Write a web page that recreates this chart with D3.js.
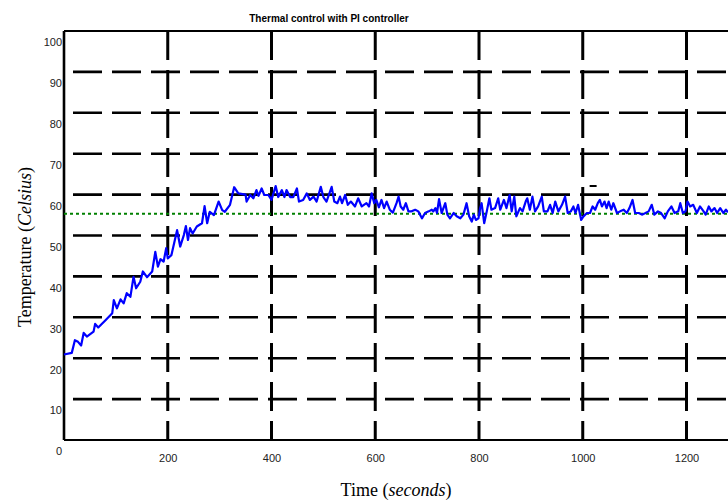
<!DOCTYPE html>
<html>
<head>
<meta charset="utf-8">
<script src="https://d3js.org/d3.v7.min.js"></script>
<style>
  body { margin: 0; background: #fff; }
  svg { display: block; }
</style>
</head>
<body>
<script>
// Chart data
var timeValues = [0, 15, 21, 27, 33, 38, 44, 57, 60, 66, 80, 93, 96, 102, 109, 115, 121, 128, 134, 139,
  147, 152, 160, 170, 176, 181, 186, 192, 197, 200, 207, 218, 224, 231, 235, 239, 243, 248, 256, 266,
  271, 276, 281, 289, 298, 305, 310, 320, 328, 336, 350, 352, 359, 365, 371, 375, 381, 386, 394, 400,
  408, 413, 420, 425, 429, 436, 442, 449, 453, 461, 468, 474, 481, 487, 495, 500, 506, 516, 521, 527,
  532, 536, 542, 547, 553, 561, 567, 574, 583, 588, 593, 598, 602, 607, 612, 617, 622, 628, 634, 641,
  645, 649, 654, 659, 664, 670, 677, 683, 690, 696, 703, 709, 712, 716, 719, 723, 728, 735, 739, 744,
  751, 757, 764, 770, 776, 781, 786, 790, 794, 799, 802, 805, 810, 815, 820, 824, 831, 837, 841, 848,
  853, 859, 863, 868, 872, 879, 884, 890, 893, 898, 903, 908, 914, 921, 925, 932, 937, 942, 947, 953,
  960, 966, 971, 977, 982, 986, 991, 997, 1001, 1008, 1014, 1019, 1024, 1029, 1033, 1037, 1042, 1046, 1050, 1055,
  1059, 1066, 1072, 1079, 1085, 1090, 1096, 1101, 1108, 1114, 1121, 1127, 1133, 1138, 1145, 1151, 1158, 1164, 1171, 1177,
  1184, 1188, 1193, 1198, 1202, 1207, 1213, 1220, 1226, 1233, 1237, 1243, 1248, 1254, 1259, 1265, 1271, 1276, 1280];

var temperatureValues = [20.9, 21.3, 24.4, 24.0, 23.1, 26.2, 25.3, 26.5, 28.4, 27.5, 29.3, 31.0, 34.2, 32.2, 34.4, 33.4, 35.9, 35.0, 39.9, 37.1,
  38.7, 41.2, 39.8, 41.2, 46.0, 42.4, 44.2, 43.6, 46.9, 44.4, 45.2, 51.3, 47.3, 50.1, 52.3, 48.9, 51.8, 50.5, 52.2, 53.0,
  57.2, 53.0, 55.8, 55.0, 58.3, 56.2, 55.8, 57.5, 61.8, 60.3, 60.0, 58.3, 59.9, 59.1, 61.1, 59.7, 61.5, 59.9, 59.9, 58.7,
  62.1, 59.4, 61.1, 59.4, 61.1, 59.4, 59.4, 61.5, 58.3, 58.7, 60.3, 58.7, 59.5, 58.3, 61.9, 59.4, 58.3, 61.9, 58.3, 57.9,
  59.5, 57.9, 59.9, 57.5, 58.3, 57.1, 59.1, 57.1, 57.9, 57.1, 60.3, 57.9, 58.7, 56.9, 58.7, 56.7, 58.3, 56.3, 55.6, 57.9,
  59.5, 57.1, 56.3, 57.9, 55.9, 55.9, 56.3, 55.9, 54.2, 55.5, 55.9, 56.3, 55.9, 56.7, 55.5, 58.9, 55.5, 57.9, 55.1, 54.2,
  55.5, 54.7, 54.2, 55.1, 57.9, 54.7, 53.4, 55.1, 53.8, 54.2, 56.6, 57.9, 53.0, 55.9, 59.1, 56.3, 56.7, 59.1, 56.3, 58.7,
  56.7, 59.9, 55.9, 59.5, 54.7, 56.7, 55.9, 58.3, 59.1, 56.3, 59.5, 55.9, 57.1, 59.5, 55.9, 55.9, 57.5, 55.5, 58.3, 55.9,
  57.5, 59.5, 55.5, 55.9, 57.1, 55.5, 57.5, 53.8, 54.6, 55.5, 55.5, 57.1, 56.3, 57.9, 58.7, 57.1, 58.3, 56.7, 58.3, 56.3,
  57.9, 55.5, 55.9, 56.3, 55.5, 56.7, 58.7, 55.5, 55.5, 55.1, 55.5, 55.9, 57.5, 55.1, 55.9, 55.5, 54.2, 55.9, 57.1, 55.5,
  55.9, 57.9, 55.5, 55.9, 58.3, 57.1, 57.5, 55.5, 57.1, 55.9, 55.1, 57.1, 55.9, 56.7, 55.5, 56.7, 55.5, 56.3, 55.7];

var setpoint = 55.3;
var xTicks = [200, 400, 600, 800, 1000, 1200];
var yTicks = [0, 10, 20, 30, 40, 50, 60, 70, 80, 90, 100];
var strayMark = [1020, 62.1];

var titleText = "Thermal control with PI controller";

// Define SVG area dimensions
var svgWidth = 728;
var svgHeight = 502;

var chartMargin = { top: 31, right: 0, bottom: 62, left: 64 };
var chartWidth = svgWidth - chartMargin.left - chartMargin.right;
var chartHeight = svgHeight - chartMargin.top - chartMargin.bottom;

var svg = d3.select("body")
  .append("svg")
  .attr("width", svgWidth)
  .attr("height", svgHeight);

var chartGroup = svg.append("g")
  .attr("transform", `translate(${chartMargin.left}, ${chartMargin.top})`);

// Scales
var xScale = d3.scaleLinear().domain([0, 1280]).range([0, chartWidth]);
var yScale = d3.scaleLinear().domain([0, 100]).range([chartHeight, 0]);

// Dashed grid lines
chartGroup.selectAll(".hgrid")
  .data(yTicks.filter(d => d > 0 && d < 100))
  .enter()
  .append("line")
  .attr("class", "hgrid")
  .attr("x1", 0)
  .attr("x2", chartWidth)
  .attr("y1", d => yScale(d))
  .attr("y2", d => yScale(d))
  .attr("stroke", "#000")
  .attr("stroke-width", 2.6)
  .attr("stroke-dasharray", "29,10")
  .attr("stroke-dashoffset", -9);

chartGroup.selectAll(".vgrid")
  .data(xTicks)
  .enter()
  .append("line")
  .attr("class", "vgrid")
  .attr("x1", d => xScale(d))
  .attr("x2", d => xScale(d))
  .attr("y1", 0)
  .attr("y2", chartHeight)
  .attr("stroke", "#000")
  .attr("stroke-width", 3)
  .attr("stroke-dasharray", "29,10");

// Axes
var bottomAxis = d3.axisBottom(xScale).tickValues(xTicks).tickFormat(d3.format("d")).tickSize(0).tickPadding(14);
var leftAxis = d3.axisLeft(yScale).tickValues(yTicks).tickFormat(d3.format("d")).tickSize(0).tickPadding(2);

var xAxisG = chartGroup.append("g")
  .attr("transform", `translate(0, ${chartHeight})`)
  .call(bottomAxis);

var yAxisG = chartGroup.append("g")
  .call(leftAxis);

[xAxisG, yAxisG].forEach(function(g) {
  g.select(".domain").remove();
  g.selectAll("text")
    .attr("font-family", "Liberation Sans, Arial, sans-serif")
    .attr("font-size", 11)
    .attr("fill", "#222");
});
yAxisG.selectAll("text").attr("dy", "1.35em");

// Frame lines
chartGroup.append("line")
  .attr("x1", 0).attr("x2", chartWidth)
  .attr("y1", 0).attr("y2", 0)
  .attr("stroke", "#000").attr("stroke-width", 2);
chartGroup.append("line")
  .attr("x1", 0).attr("x2", chartWidth)
  .attr("y1", chartHeight).attr("y2", chartHeight)
  .attr("stroke", "#000").attr("stroke-width", 2.2);
chartGroup.append("line")
  .attr("x1", 0).attr("x2", 0)
  .attr("y1", 0).attr("y2", chartHeight)
  .attr("stroke", "#000").attr("stroke-width", 2.6);

// Setpoint line
chartGroup.append("line")
  .attr("x1", 0).attr("x2", chartWidth)
  .attr("y1", yScale(setpoint)).attr("y2", yScale(setpoint))
  .attr("stroke", "#008000")
  .attr("stroke-width", 2)
  .attr("stroke-dasharray", "3,3");

// Temperature trace
var tempData = timeValues.map((t, i) => ({ t: t, v: temperatureValues[i] }));

var line = d3.line()
  .x(d => xScale(d.t))
  .y(d => yScale(d.v));

chartGroup.append("path")
  .datum(tempData)
  .attr("d", line)
  .attr("fill", "none")
  .attr("stroke", "#0000ff")
  .attr("stroke-width", 2.2)
  .attr("stroke-linejoin", "round");

// little stray mark
chartGroup.append("line")
  .attr("x1", xScale(strayMark[0]) - 3.5)
  .attr("x2", xScale(strayMark[0]) + 3.5)
  .attr("y1", yScale(strayMark[1]))
  .attr("y2", yScale(strayMark[1]))
  .attr("stroke", "#000")
  .attr("stroke-width", 2);

// Title and axis labels
svg.append("text")
  .attr("x", 329)
  .attr("y", 22)
  .attr("text-anchor", "middle")
  .attr("font-family", "Liberation Sans, Arial, sans-serif")
  .attr("font-weight", "bold")
  .attr("font-size", 10)
  .text(titleText);

var xLabel = svg.append("text")
  .attr("x", 396)
  .attr("y", 496)
  .attr("text-anchor", "middle")
  .attr("font-family", "Liberation Serif, Times New Roman, serif")
  .attr("font-size", 18);
xLabel.append("tspan").text("Time (");
xLabel.append("tspan").attr("font-style", "italic").text("seconds");
xLabel.append("tspan").text(")");

var yLabel = svg.append("text")
  .attr("transform", "translate(31, 247) rotate(-90)")
  .attr("text-anchor", "middle")
  .attr("font-family", "Liberation Serif, Times New Roman, serif")
  .attr("font-size", 18);
yLabel.append("tspan").text("Temperature (");
yLabel.append("tspan").attr("font-style", "italic").text("Celsius");
yLabel.append("tspan").text(")");
</script>
</body>
</html>
